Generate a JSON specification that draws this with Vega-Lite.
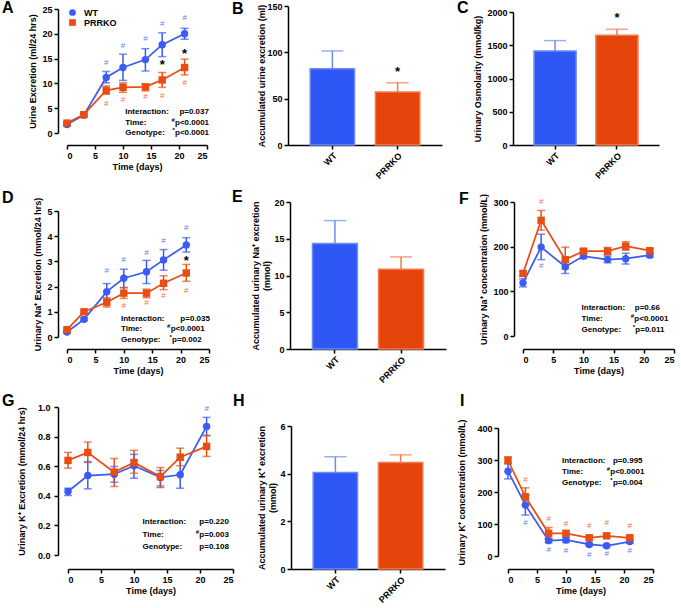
{
  "$schema": "https://vega.github.io/schema/vega-lite/v6.json",
  "autosize": {"type": "none"},
  "padding": {"left": 58, "top": 6, "right": 623, "bottom": 602},
  "columns": 3,
  "spacing": {"row": 57, "column": 52},
  "align": "each",
  "bounds": "flush",
  "resolve": {"scale": {"color": "independent", "shape": "independent", "fill": "independent", "stroke": "independent"}},
  "datasets": {
    "series": [
      {"p":"A","g":"WT","x":0,"y":1.7,"lo":1.4,"hi":2.0},
      {"p":"A","g":"WT","x":3,"y":3.6,"lo":3.3,"hi":3.9},
      {"p":"A","g":"WT","x":7,"y":11.2,"lo":10.1,"hi":12.4},
      {"p":"A","g":"WT","x":10,"y":13.2,"lo":10.6,"hi":15.9},
      {"p":"A","g":"WT","x":14,"y":14.8,"lo":12.5,"hi":17.0},
      {"p":"A","g":"WT","x":17,"y":17.8,"lo":15.4,"hi":20.2},
      {"p":"A","g":"WT","x":21,"y":20.0,"lo":18.9,"hi":21.1},
      {"p":"A","g":"PRRKO","x":0,"y":2.0,"lo":1.8,"hi":2.2},
      {"p":"A","g":"PRRKO","x":3,"y":3.7,"lo":3.4,"hi":4.0},
      {"p":"A","g":"PRRKO","x":7,"y":8.6,"lo":7.8,"hi":9.5},
      {"p":"A","g":"PRRKO","x":10,"y":9.2,"lo":8.2,"hi":10.1},
      {"p":"A","g":"PRRKO","x":14,"y":9.3,"lo":8.5,"hi":9.9},
      {"p":"A","g":"PRRKO","x":17,"y":10.7,"lo":9.2,"hi":12.2},
      {"p":"A","g":"PRRKO","x":21,"y":13.2,"lo":11.7,"hi":14.9},
      {"p":"D","g":"WT","x":0,"y":0.2,"lo":0.15,"hi":0.25},
      {"p":"D","g":"WT","x":3,"y":0.7,"lo":0.65,"hi":0.75},
      {"p":"D","g":"WT","x":7,"y":1.8,"lo":1.5,"hi":2.12},
      {"p":"D","g":"WT","x":10,"y":2.33,"lo":1.96,"hi":2.69},
      {"p":"D","g":"WT","x":14,"y":2.59,"lo":2.12,"hi":3.04},
      {"p":"D","g":"WT","x":17,"y":3.06,"lo":2.65,"hi":3.47},
      {"p":"D","g":"WT","x":21,"y":3.65,"lo":3.37,"hi":3.94},
      {"p":"D","g":"PRRKO","x":0,"y":0.29,"lo":0.25,"hi":0.33},
      {"p":"D","g":"PRRKO","x":3,"y":1.0,"lo":0.95,"hi":1.05},
      {"p":"D","g":"PRRKO","x":7,"y":1.38,"lo":1.19,"hi":1.56},
      {"p":"D","g":"PRRKO","x":10,"y":1.74,"lo":1.53,"hi":1.96},
      {"p":"D","g":"PRRKO","x":14,"y":1.74,"lo":1.56,"hi":1.9},
      {"p":"D","g":"PRRKO","x":17,"y":2.13,"lo":1.88,"hi":2.43},
      {"p":"D","g":"PRRKO","x":21,"y":2.54,"lo":2.21,"hi":2.88},
      {"p":"F","g":"WT","x":0,"y":119,"lo":110,"hi":128},
      {"p":"F","g":"WT","x":3,"y":199,"lo":171,"hi":228},
      {"p":"F","g":"WT","x":7,"y":155,"lo":140,"hi":168},
      {"p":"F","g":"WT","x":10,"y":179,"lo":173,"hi":185},
      {"p":"F","g":"WT","x":14,"y":171,"lo":164,"hi":179},
      {"p":"F","g":"WT","x":17,"y":173,"lo":161,"hi":185},
      {"p":"F","g":"WT","x":21,"y":181,"lo":176,"hi":186},
      {"p":"F","g":"PRRKO","x":0,"y":140,"lo":134,"hi":146},
      {"p":"F","g":"PRRKO","x":3,"y":259,"lo":237,"hi":281},
      {"p":"F","g":"PRRKO","x":7,"y":171,"lo":150,"hi":199},
      {"p":"F","g":"PRRKO","x":10,"y":190,"lo":185,"hi":195},
      {"p":"F","g":"PRRKO","x":14,"y":190,"lo":182,"hi":198},
      {"p":"F","g":"PRRKO","x":17,"y":201,"lo":192,"hi":211},
      {"p":"F","g":"PRRKO","x":21,"y":191,"lo":186,"hi":195},
      {"p":"G","g":"WT","x":0,"y":0.429,"lo":0.402,"hi":0.451},
      {"p":"G","g":"WT","x":3,"y":0.537,"lo":0.447,"hi":0.631},
      {"p":"G","g":"WT","x":7,"y":0.546,"lo":0.492,"hi":0.598},
      {"p":"G","g":"WT","x":10,"y":0.603,"lo":0.519,"hi":0.68},
      {"p":"G","g":"WT","x":14,"y":0.524,"lo":0.456,"hi":0.571},
      {"p":"G","g":"WT","x":17,"y":0.542,"lo":0.451,"hi":0.643},
      {"p":"G","g":"WT","x":21,"y":0.869,"lo":0.808,"hi":0.93},
      {"p":"G","g":"PRRKO","x":0,"y":0.639,"lo":0.587,"hi":0.693},
      {"p":"G","g":"PRRKO","x":3,"y":0.693,"lo":0.625,"hi":0.763},
      {"p":"G","g":"PRRKO","x":7,"y":0.56,"lo":0.463,"hi":0.652},
      {"p":"G","g":"PRRKO","x":10,"y":0.625,"lo":0.553,"hi":0.707},
      {"p":"G","g":"PRRKO","x":14,"y":0.53,"lo":0.467,"hi":0.591},
      {"p":"G","g":"PRRKO","x":17,"y":0.661,"lo":0.603,"hi":0.722},
      {"p":"G","g":"PRRKO","x":21,"y":0.734,"lo":0.666,"hi":0.806},
      {"p":"I","g":"WT","x":0,"y":265,"lo":241,"hi":288},
      {"p":"I","g":"WT","x":3,"y":159,"lo":128,"hi":190},
      {"p":"I","g":"WT","x":7,"y":48,"lo":42,"hi":54},
      {"p":"I","g":"WT","x":10,"y":50,"lo":42,"hi":58},
      {"p":"I","g":"WT","x":14,"y":36,"lo":32,"hi":40},
      {"p":"I","g":"WT","x":17,"y":32,"lo":28,"hi":36},
      {"p":"I","g":"WT","x":21,"y":45,"lo":40,"hi":50},
      {"p":"I","g":"PRRKO","x":0,"y":299,"lo":289,"hi":310},
      {"p":"I","g":"PRRKO","x":3,"y":185,"lo":159,"hi":213},
      {"p":"I","g":"PRRKO","x":7,"y":71,"lo":55,"hi":89},
      {"p":"I","g":"PRRKO","x":10,"y":71,"lo":64,"hi":78},
      {"p":"I","g":"PRRKO","x":14,"y":57,"lo":52,"hi":62},
      {"p":"I","g":"PRRKO","x":17,"y":63,"lo":57,"hi":71},
      {"p":"I","g":"PRRKO","x":21,"y":57,"lo":52,"hi":62}
    ],
    "bars": [
      {"p":"B","g":"WT","y":82.4,"err":101.5},
      {"p":"B","g":"PRRKO","y":57.1,"err":67.2},
      {"p":"C","g":"WT","y":1415,"err":1570},
      {"p":"C","g":"PRRKO","y":1650,"err":1740},
      {"p":"E","g":"WT","y":14.34,"err":17.47},
      {"p":"E","g":"PRRKO","y":10.86,"err":12.53},
      {"p":"H","g":"WT","y":4.05,"err":4.71},
      {"p":"H","g":"PRRKO","y":4.47,"err":4.79}
    ],
    "marks": [
      {"p":"A","g":"WT","x":7,"y":14.05,"t":"#"},
      {"p":"A","g":"WT","x":10,"y":17.6,"t":"#"},
      {"p":"A","g":"WT","x":14,"y":18.9,"t":"#"},
      {"p":"A","g":"WT","x":17,"y":22.0,"t":"#"},
      {"p":"A","g":"WT","x":21,"y":23.2,"t":"#"},
      {"p":"A","g":"PRRKO","x":7,"y":5.9,"t":"#"},
      {"p":"A","g":"PRRKO","x":10,"y":6.6,"t":"#"},
      {"p":"A","g":"PRRKO","x":14,"y":7.3,"t":"#"},
      {"p":"A","g":"PRRKO","x":17,"y":7.4,"t":"#"},
      {"p":"A","g":"PRRKO","x":21,"y":10.1,"t":"#"},
      {"p":"A","g":"star","x":17,"y":14.05,"t":"*"},
      {"p":"A","g":"star","x":21,"y":16.3,"t":"*"},
      {"p":"B","g":"PRRKO","y":80.6,"t":"*"},
      {"p":"C","g":"PRRKO","y":1940,"t":"*"},
      {"p":"D","g":"WT","x":7,"y":2.61,"t":"#"},
      {"p":"D","g":"WT","x":10,"y":3.07,"t":"#"},
      {"p":"D","g":"WT","x":14,"y":3.35,"t":"#"},
      {"p":"D","g":"WT","x":17,"y":3.82,"t":"#"},
      {"p":"D","g":"WT","x":21,"y":4.33,"t":"#"},
      {"p":"D","g":"PRRKO","x":10,"y":1.22,"t":"#"},
      {"p":"D","g":"PRRKO","x":14,"y":1.36,"t":"#"},
      {"p":"D","g":"PRRKO","x":17,"y":1.63,"t":"#"},
      {"p":"D","g":"PRRKO","x":21,"y":1.81,"t":"#"},
      {"p":"D","g":"star","x":21,"y":3.08,"t":"*"},
      {"p":"F","g":"PRRKO","x":3,"y":301,"t":"#"},
      {"p":"F","g":"WT","x":3,"y":156,"t":"#"},
      {"p":"G","g":"WT","x":21,"y":0.987,"t":"#"},
      {"p":"I","g":"PRRKO","x":3,"y":236,"t":"#"},
      {"p":"I","g":"PRRKO","x":7,"y":115,"t":"#"},
      {"p":"I","g":"PRRKO","x":10,"y":100,"t":"#"},
      {"p":"I","g":"PRRKO","x":14,"y":94,"t":"#"},
      {"p":"I","g":"PRRKO","x":17,"y":104,"t":"#"},
      {"p":"I","g":"PRRKO","x":21,"y":95,"t":"#"},
      {"p":"I","g":"WT","x":3,"y":104,"t":"#"},
      {"p":"I","g":"WT","x":7,"y":19,"t":"#"},
      {"p":"I","g":"WT","x":10,"y":17,"t":"#"},
      {"p":"I","g":"WT","x":14,"y":3,"t":"#"},
      {"p":"I","g":"WT","x":17,"y":5,"t":"#"},
      {"p":"I","g":"WT","x":21,"y":17,"t":"#"}
    ],
    "stats": [
      {"p":"A","x":10.4,"vx":20.07,"y":4.17,"label":"Interaction:","value":"p=0.037","sup":""},
      {"p":"A","x":10.4,"vx":19.29,"y":2.08,"label":"Time:","value":"p<0.0001","sup":"#"},
      {"p":"A","x":10.4,"vx":19.29,"y":-0.07,"label":"Genotype:","value":"p<0.0001","sup":"*"},
      {"p":"D","x":9.5,"vx":19.96,"y":0.71,"label":"Interaction:","value":"p=0.035","sup":""},
      {"p":"D","x":9.5,"vx":18.26,"y":0.31,"label":"Time:","value":"p<0.0001","sup":"#"},
      {"p":"D","x":9.5,"vx":18.5,"y":-0.12,"label":"Genotype:","value":"p=0.002","sup":"*"},
      {"p":"F","x":9.7,"vx":18.5,"y":62,"label":"Interaction:","value":"p=0.66","sup":""},
      {"p":"F","x":9.7,"vx":18.43,"y":38,"label":"Time:","value":"p<0.0001","sup":"#"},
      {"p":"F","x":9.7,"vx":18.6,"y":13.4,"label":"Genotype:","value":"p=0.011","sup":"*"},
      {"p":"G","x":11.3,"vx":19.9,"y":0.221,"label":"Interaction:","value":"p=0.220","sup":""},
      {"p":"G","x":11.3,"vx":19.9,"y":0.135,"label":"Time:","value":"p=0.003","sup":"#"},
      {"p":"G","x":11.3,"vx":19.9,"y":0.056,"label":"Genotype:","value":"p=0.108","sup":""},
      {"p":"I","x":9.3,"vx":18.1,"y":297,"label":"Interaction:","value":"p=0.995","sup":""},
      {"p":"I","x":9.3,"vx":17.64,"y":263,"label":"Time:","value":"p<0.0001","sup":"#"},
      {"p":"I","x":9.3,"vx":18.1,"y":229,"label":"Genotype:","value":"p=0.004","sup":"*"}
    ]
  },
  "concat": [
    {
      "width": 178, "height": 139,
      "title": {"text": "A", "dx": -56, "dy": 15},
      "encoding": {
        "x": {"field": "x", "type": "quantitative", "scale": {"domain": [0, 25], "range": [9, 149], "nice": false, "zero": false, "padding": 0}, "axis": {"values": [0, 5, 10, 15, 20, 25], "title": "Time (days)", "titlePadding": 2}},
        "y": {"field": "y", "type": "quantitative", "scale": {"domain": [0, 25], "range": [127, 3], "nice": false, "zero": false, "padding": 0}, "axis": {"values": [0, 5, 10, 15, 20, 25], "title": "Urine Excretion (ml/24 hrs)"}}
      },
      "layer": [
        {"data": {"name": "series"}, "transform": [{"filter": {"field": "p", "equal": "A"}}], "mark": {"type": "rule", "strokeWidth": 1.5}, "encoding": {"y": {"field": "lo", "type": "quantitative"}, "y2": {"field": "hi"}, "stroke": {"field": "g", "type": "nominal", "scale": {"domain": ["PRRKO", "WT"], "range": ["#E84E14", "#3B5BF2"]}, "legend": null}}},
        {"data": {"name": "series"}, "transform": [{"filter": {"field": "p", "equal": "A"}}], "mark": {"type": "tick", "orient": "horizontal", "size": 8, "thickness": 1.5}, "encoding": {"y": {"field": "lo", "type": "quantitative"}, "fill": {"field": "g", "type": "nominal", "scale": {"domain": ["PRRKO", "WT"], "range": ["#E84E14", "#3B5BF2"]}, "legend": null}}},
        {"data": {"name": "series"}, "transform": [{"filter": {"field": "p", "equal": "A"}}], "mark": {"type": "tick", "orient": "horizontal", "size": 8, "thickness": 1.5}, "encoding": {"y": {"field": "hi", "type": "quantitative"}, "fill": {"field": "g", "type": "nominal", "legend": null}}},
        {"data": {"name": "series"}, "transform": [{"filter": {"field": "p", "equal": "A"}}], "mark": {"type": "line", "strokeWidth": 1.75}, "encoding": {"stroke": {"field": "g", "type": "nominal", "legend": null}}},
        {"data": {"name": "series"}, "transform": [{"filter": {"field": "p", "equal": "A"}}], "mark": {"type": "point", "filled": true, "size": 55, "opacity": 1},
          "encoding": {
            "color": {"field": "g", "type": "nominal", "scale": {"domain": ["WT", "PRRKO"], "range": ["#3B5BF2", "#E84E14"]}, "legend": {"orient": "none", "legendX": 10, "legendY": 2, "title": null, "labelFontSize": 9, "labelFontWeight": "bold", "labelFont": "Liberation Sans", "labelColor": "black", "symbolSize": 45, "padding": 0, "rowPadding": 0, "labelOffset": 7}},
            "shape": {"field": "g", "type": "nominal", "scale": {"domain": ["WT", "PRRKO"], "range": ["circle", "square"]}, "legend": {"orient": "none", "legendX": 10, "legendY": 2, "title": null, "labelFontSize": 9, "labelFontWeight": "bold", "labelFont": "Liberation Sans", "labelColor": "black", "symbolSize": 45, "padding": 0, "rowPadding": 0, "labelOffset": 7}}
          }},
        {"data": {"name": "marks"}, "transform": [{"filter": {"field": "p", "equal": "A"}}, {"filter": {"field": "t", "equal": "#"}}], "mark": {"type": "text", "fontSize": 8, "opacity": 0.8}, "encoding": {"text": {"field": "t"}, "fill": {"field": "g", "type": "nominal", "legend": null}}},
        {"data": {"name": "marks"}, "transform": [{"filter": {"field": "p", "equal": "A"}}, {"filter": {"field": "t", "equal": "*"}}], "mark": {"type": "text", "fontSize": 13, "fontWeight": "bold", "dy": 2, "color": "black"}, "encoding": {"text": {"field": "t"}}},
        {"data": {"name": "stats"}, "transform": [{"filter": {"field": "p", "equal": "A"}}], "mark": {"type": "text", "align": "left", "fontSize": 8, "fontWeight": "bold", "color": "black"}, "encoding": {"text": {"field": "label"}}},
        {"data": {"name": "stats"}, "transform": [{"filter": {"field": "p", "equal": "A"}}], "mark": {"type": "text", "align": "left", "fontSize": 8, "fontWeight": "bold", "color": "black"}, "encoding": {"x": {"field": "vx", "type": "quantitative"}, "text": {"field": "value"}}},
        {"data": {"name": "stats"}, "transform": [{"filter": {"field": "p", "equal": "A"}}, {"filter": "datum.sup !== ''"}], "mark": {"type": "text", "align": "right", "fontSize": 6, "fontWeight": "bold", "dy": -3, "dx": -0.3, "color": "black"}, "encoding": {"x": {"field": "vx", "type": "quantitative"}, "text": {"field": "sup"}}}
      ]
    },
    {
      "width": 158, "height": 139,
      "title": {"text": "B", "dx": -56, "dy": 19},
      "encoding": {
        "x": {"field": "g", "type": "nominal", "sort": ["WT", "PRRKO"], "scale": {"domain": ["WT", "PRRKO"], "range": [0, 154], "paddingInner": 0.32, "paddingOuter": 0.34}, "axis": {"title": null, "labelAngle": -45}},
        "y": {"field": "y", "type": "quantitative", "scale": {"domain": [0, 150], "range": [139, 0], "nice": false, "zero": false, "padding": 0}, "axis": {"values": [0, 50, 100, 150], "title": "Accumulated urine excretion (ml)", "titlePadding": 0}}
      },
      "layer": [
        {"data": {"name": "bars"}, "transform": [{"filter": {"field": "p", "equal": "B"}}], "mark": {"type": "rule", "strokeWidth": 1.5}, "encoding": {"y2": {"field": "err"}, "stroke": {"field": "g", "type": "nominal", "scale": {"domain": ["WT", "PRRKO"], "range": ["#6D8BF3", "#EF7B4F"]}, "legend": null}}},
        {"data": {"name": "bars"}, "transform": [{"filter": {"field": "p", "equal": "B"}}], "mark": {"type": "tick", "orient": "horizontal", "size": 22, "thickness": 1.5}, "encoding": {"y": {"field": "err", "type": "quantitative"}, "color": {"field": "g", "type": "nominal", "scale": {"domain": ["WT", "PRRKO"], "range": ["#6D8BF3", "#EF7B4F"]}, "legend": null}}},
        {"data": {"name": "bars"}, "transform": [{"filter": {"field": "p", "equal": "B"}}], "mark": {"type": "bar", "strokeWidth": 1.5}, "encoding": {"fill": {"field": "g", "type": "nominal", "scale": {"domain": ["WT", "PRRKO"], "range": ["#2F57F5", "#E5450A"]}, "legend": null}, "stroke": {"field": "g", "type": "nominal", "legend": null}}},
        {"data": {"name": "marks"}, "transform": [{"filter": {"field": "p", "equal": "B"}}], "mark": {"type": "text", "fontSize": 13, "fontWeight": "bold", "dy": 2, "color": "black"}, "encoding": {"text": {"field": "t"}}}
      ]
    },
    {
      "width": 176, "height": 139,
      "title": {"text": "C", "dx": -41, "dy": 14},
      "encoding": {
        "x": {"field": "g", "type": "nominal", "sort": ["WT", "PRRKO"], "scale": {"domain": ["WT", "PRRKO"], "range": [15, 161], "paddingInner": 0.32, "paddingOuter": 0.34}, "axis": {"title": null, "labelAngle": -45}},
        "y": {"field": "y", "type": "quantitative", "scale": {"domain": [0, 2000], "range": [139, 6], "nice": false, "zero": false, "padding": 0}, "axis": {"values": [0, 500, 1000, 1500, 2000], "format": "d", "title": "Urinary Osmolarity (mmol/kg)", "offset": -15, "titlePadding": 4}}
      },
      "layer": [
        {"data": {"name": "bars"}, "transform": [{"filter": {"field": "p", "equal": "C"}}], "mark": {"type": "rule", "strokeWidth": 1.5}, "encoding": {"y2": {"field": "err"}, "stroke": {"field": "g", "type": "nominal", "scale": {"domain": ["WT", "PRRKO"], "range": ["#6D8BF3", "#EF7B4F"]}, "legend": null}}},
        {"data": {"name": "bars"}, "transform": [{"filter": {"field": "p", "equal": "C"}}], "mark": {"type": "tick", "orient": "horizontal", "size": 22, "thickness": 1.5}, "encoding": {"y": {"field": "err", "type": "quantitative"}, "color": {"field": "g", "type": "nominal", "scale": {"domain": ["WT", "PRRKO"], "range": ["#6D8BF3", "#EF7B4F"]}, "legend": null}}},
        {"data": {"name": "bars"}, "transform": [{"filter": {"field": "p", "equal": "C"}}], "mark": {"type": "bar", "strokeWidth": 1.5}, "encoding": {"fill": {"field": "g", "type": "nominal", "scale": {"domain": ["WT", "PRRKO"], "range": ["#2F57F5", "#E5450A"]}, "legend": null}, "stroke": {"field": "g", "type": "nominal", "legend": null}}},
        {"data": {"name": "marks"}, "transform": [{"filter": {"field": "p", "equal": "C"}}], "mark": {"type": "text", "fontSize": 13, "fontWeight": "bold", "dy": 2, "color": "black"}, "encoding": {"text": {"field": "t"}}}
      ]
    },
    {
      "width": 178, "height": 147,
      "title": {"text": "D", "dx": -56, "dy": 13},
      "encoding": {
        "x": {"field": "x", "type": "quantitative", "scale": {"domain": [0, 25], "range": [9, 151], "nice": false, "zero": false, "padding": 0}, "axis": {"values": [0, 5, 10, 15, 20, 25], "title": "Time (days)", "titlePadding": 2}},
        "y": {"field": "y", "type": "quantitative", "scale": {"domain": [0, 5], "range": [135, 9], "nice": false, "zero": false, "padding": 0}, "axis": {"values": [0, 1, 2, 3, 4, 5], "title": "Urinary Na⁺ Excretion (mmol/24 hrs)"}}
      },
      "layer": [
        {"data": {"name": "series"}, "transform": [{"filter": {"field": "p", "equal": "D"}}], "mark": {"type": "rule", "strokeWidth": 1.5}, "encoding": {"y": {"field": "lo", "type": "quantitative"}, "y2": {"field": "hi"}, "stroke": {"field": "g", "type": "nominal", "scale": {"domain": ["WT", "PRRKO"], "range": ["#3B5BF2", "#E84E14"]}, "legend": null}}},
        {"data": {"name": "series"}, "transform": [{"filter": {"field": "p", "equal": "D"}}], "mark": {"type": "tick", "orient": "horizontal", "size": 8, "thickness": 1.5}, "encoding": {"y": {"field": "lo", "type": "quantitative"}, "fill": {"field": "g", "type": "nominal", "scale": {"domain": ["WT", "PRRKO"], "range": ["#3B5BF2", "#E84E14"]}, "legend": null}}},
        {"data": {"name": "series"}, "transform": [{"filter": {"field": "p", "equal": "D"}}], "mark": {"type": "tick", "orient": "horizontal", "size": 8, "thickness": 1.5}, "encoding": {"y": {"field": "hi", "type": "quantitative"}, "fill": {"field": "g", "type": "nominal", "legend": null}}},
        {"data": {"name": "series"}, "transform": [{"filter": {"field": "p", "equal": "D"}}], "mark": {"type": "line", "strokeWidth": 1.75}, "encoding": {"stroke": {"field": "g", "type": "nominal", "legend": null}}},
        {"data": {"name": "series"}, "transform": [{"filter": {"field": "p", "equal": "D"}}], "mark": {"type": "point", "filled": true, "size": 55, "opacity": 1}, "encoding": {"color": {"field": "g", "type": "nominal", "scale": {"domain": ["WT", "PRRKO"], "range": ["#3B5BF2", "#E84E14"]}, "legend": null}, "shape": {"field": "g", "type": "nominal", "scale": {"domain": ["WT", "PRRKO"], "range": ["circle", "square"]}, "legend": null}}},
        {"data": {"name": "marks"}, "transform": [{"filter": {"field": "p", "equal": "D"}}, {"filter": {"field": "t", "equal": "#"}}], "mark": {"type": "text", "fontSize": 8, "opacity": 0.8}, "encoding": {"text": {"field": "t"}, "fill": {"field": "g", "type": "nominal", "legend": null}}},
        {"data": {"name": "marks"}, "transform": [{"filter": {"field": "p", "equal": "D"}}, {"filter": {"field": "t", "equal": "*"}}], "mark": {"type": "text", "fontSize": 13, "fontWeight": "bold", "dy": 2, "color": "black"}, "encoding": {"text": {"field": "t"}}},
        {"data": {"name": "stats"}, "transform": [{"filter": {"field": "p", "equal": "D"}}], "mark": {"type": "text", "align": "left", "fontSize": 8, "fontWeight": "bold", "color": "black"}, "encoding": {"text": {"field": "label"}}},
        {"data": {"name": "stats"}, "transform": [{"filter": {"field": "p", "equal": "D"}}], "mark": {"type": "text", "align": "left", "fontSize": 8, "fontWeight": "bold", "color": "black"}, "encoding": {"x": {"field": "vx", "type": "quantitative"}, "text": {"field": "value"}}},
        {"data": {"name": "stats"}, "transform": [{"filter": {"field": "p", "equal": "D"}}, {"filter": "datum.sup !== ''"}], "mark": {"type": "text", "align": "right", "fontSize": 6, "fontWeight": "bold", "dy": -3, "dx": -0.3, "color": "black"}, "encoding": {"x": {"field": "vx", "type": "quantitative"}, "text": {"field": "sup"}}}
      ]
    },
    {
      "width": 158, "height": 147,
      "title": {"text": "E", "dx": -56, "dy": 11},
      "encoding": {
        "x": {"field": "g", "type": "nominal", "sort": ["WT", "PRRKO"], "scale": {"domain": ["WT", "PRRKO"], "range": [2, 158], "paddingInner": 0.32, "paddingOuter": 0.34}, "axis": {"title": null, "labelAngle": -45}},
        "y": {"field": "y", "type": "quantitative", "scale": {"domain": [0, 20], "range": [147, 0], "nice": false, "zero": false, "padding": 0}, "axis": {"values": [0, 5, 10, 15, 20], "title": ["Accumulated urinary Na⁺ excretion", "(mmol)"], "offset": -2, "titlePadding": 2}}
      },
      "layer": [
        {"data": {"name": "bars"}, "transform": [{"filter": {"field": "p", "equal": "E"}}], "mark": {"type": "rule", "strokeWidth": 1.5}, "encoding": {"y2": {"field": "err"}, "stroke": {"field": "g", "type": "nominal", "scale": {"domain": ["WT", "PRRKO"], "range": ["#6D8BF3", "#EF7B4F"]}, "legend": null}}},
        {"data": {"name": "bars"}, "transform": [{"filter": {"field": "p", "equal": "E"}}], "mark": {"type": "tick", "orient": "horizontal", "size": 22, "thickness": 1.5}, "encoding": {"y": {"field": "err", "type": "quantitative"}, "color": {"field": "g", "type": "nominal", "scale": {"domain": ["WT", "PRRKO"], "range": ["#6D8BF3", "#EF7B4F"]}, "legend": null}}},
        {"data": {"name": "bars"}, "transform": [{"filter": {"field": "p", "equal": "E"}}], "mark": {"type": "bar", "strokeWidth": 1.5}, "encoding": {"fill": {"field": "g", "type": "nominal", "scale": {"domain": ["WT", "PRRKO"], "range": ["#2F57F5", "#E5450A"]}, "legend": null}, "stroke": {"field": "g", "type": "nominal", "legend": null}}}
      ]
    },
    {
      "width": 176, "height": 147,
      "title": {"text": "F", "dx": -39, "dy": 18},
      "encoding": {
        "x": {"field": "x", "type": "quantitative", "scale": {"domain": [0, 25], "range": [25, 176], "nice": false, "zero": false, "padding": 0}, "axis": {"values": [0, 5, 10, 15, 20, 25], "title": "Time (days)", "titlePadding": 2}},
        "y": {"field": "y", "type": "quantitative", "scale": {"domain": [0, 300], "range": [134, 0], "nice": false, "zero": false, "padding": 0}, "axis": {"values": [0, 100, 200, 300], "title": "Urinary Na⁺ concentration (mmol/L)", "offset": -16}}
      },
      "layer": [
        {"data": {"name": "series"}, "transform": [{"filter": {"field": "p", "equal": "F"}}], "mark": {"type": "rule", "strokeWidth": 1.5}, "encoding": {"y": {"field": "lo", "type": "quantitative"}, "y2": {"field": "hi"}, "stroke": {"field": "g", "type": "nominal", "scale": {"domain": ["WT", "PRRKO"], "range": ["#3B5BF2", "#E84E14"]}, "legend": null}}},
        {"data": {"name": "series"}, "transform": [{"filter": {"field": "p", "equal": "F"}}], "mark": {"type": "tick", "orient": "horizontal", "size": 8, "thickness": 1.5}, "encoding": {"y": {"field": "lo", "type": "quantitative"}, "fill": {"field": "g", "type": "nominal", "scale": {"domain": ["WT", "PRRKO"], "range": ["#3B5BF2", "#E84E14"]}, "legend": null}}},
        {"data": {"name": "series"}, "transform": [{"filter": {"field": "p", "equal": "F"}}], "mark": {"type": "tick", "orient": "horizontal", "size": 8, "thickness": 1.5}, "encoding": {"y": {"field": "hi", "type": "quantitative"}, "fill": {"field": "g", "type": "nominal", "legend": null}}},
        {"data": {"name": "series"}, "transform": [{"filter": {"field": "p", "equal": "F"}}], "mark": {"type": "line", "strokeWidth": 1.75}, "encoding": {"stroke": {"field": "g", "type": "nominal", "legend": null}}},
        {"data": {"name": "series"}, "transform": [{"filter": {"field": "p", "equal": "F"}}], "mark": {"type": "point", "filled": true, "size": 55, "opacity": 1}, "encoding": {"color": {"field": "g", "type": "nominal", "scale": {"domain": ["WT", "PRRKO"], "range": ["#3B5BF2", "#E84E14"]}, "legend": null}, "shape": {"field": "g", "type": "nominal", "scale": {"domain": ["WT", "PRRKO"], "range": ["circle", "square"]}, "legend": null}}},
        {"data": {"name": "marks"}, "transform": [{"filter": {"field": "p", "equal": "F"}}, {"filter": {"field": "t", "equal": "#"}}], "mark": {"type": "text", "fontSize": 8, "opacity": 0.8}, "encoding": {"text": {"field": "t"}, "fill": {"field": "g", "type": "nominal", "legend": null}}},
        {"data": {"name": "stats"}, "transform": [{"filter": {"field": "p", "equal": "F"}}], "mark": {"type": "text", "align": "left", "fontSize": 8, "fontWeight": "bold", "color": "black"}, "encoding": {"text": {"field": "label"}}},
        {"data": {"name": "stats"}, "transform": [{"filter": {"field": "p", "equal": "F"}}], "mark": {"type": "text", "align": "left", "fontSize": 8, "fontWeight": "bold", "color": "black"}, "encoding": {"x": {"field": "vx", "type": "quantitative"}, "text": {"field": "value"}}},
        {"data": {"name": "stats"}, "transform": [{"filter": {"field": "p", "equal": "F"}}, {"filter": "datum.sup !== ''"}], "mark": {"type": "text", "align": "right", "fontSize": 6, "fontWeight": "bold", "dy": -3, "dx": -0.3, "color": "black"}, "encoding": {"x": {"field": "vx", "type": "quantitative"}, "text": {"field": "sup"}}}
      ]
    },
    {
      "width": 178, "height": 163,
      "title": {"text": "G", "dx": -56, "dy": 10},
      "encoding": {
        "x": {"field": "x", "type": "quantitative", "scale": {"domain": [0, 25], "range": [10, 175], "nice": false, "zero": false, "padding": 0}, "axis": {"values": [0, 5, 10, 15, 20, 25], "title": "Time (days)", "titlePadding": 2}},
        "y": {"field": "y", "type": "quantitative", "scale": {"domain": [0, 1], "range": [149, 1], "nice": false, "zero": false, "padding": 0}, "axis": {"values": [0, 0.2, 0.4, 0.6, 0.8, 1.0], "format": ".1f", "title": "Urinary K⁺ Excretion (mmol/24 hrs)", "labelPadding": 4, "titlePadding": 11}}
      },
      "layer": [
        {"data": {"name": "series"}, "transform": [{"filter": {"field": "p", "equal": "G"}}], "mark": {"type": "rule", "strokeWidth": 1.5}, "encoding": {"y": {"field": "lo", "type": "quantitative"}, "y2": {"field": "hi"}, "stroke": {"field": "g", "type": "nominal", "scale": {"domain": ["WT", "PRRKO"], "range": ["#3B5BF2", "#E84E14"]}, "legend": null}}},
        {"data": {"name": "series"}, "transform": [{"filter": {"field": "p", "equal": "G"}}], "mark": {"type": "tick", "orient": "horizontal", "size": 8, "thickness": 1.5}, "encoding": {"y": {"field": "lo", "type": "quantitative"}, "fill": {"field": "g", "type": "nominal", "scale": {"domain": ["WT", "PRRKO"], "range": ["#3B5BF2", "#E84E14"]}, "legend": null}}},
        {"data": {"name": "series"}, "transform": [{"filter": {"field": "p", "equal": "G"}}], "mark": {"type": "tick", "orient": "horizontal", "size": 8, "thickness": 1.5}, "encoding": {"y": {"field": "hi", "type": "quantitative"}, "fill": {"field": "g", "type": "nominal", "legend": null}}},
        {"data": {"name": "series"}, "transform": [{"filter": {"field": "p", "equal": "G"}}], "mark": {"type": "line", "strokeWidth": 1.75}, "encoding": {"stroke": {"field": "g", "type": "nominal", "legend": null}}},
        {"data": {"name": "series"}, "transform": [{"filter": {"field": "p", "equal": "G"}}], "mark": {"type": "point", "filled": true, "size": 55, "opacity": 1}, "encoding": {"color": {"field": "g", "type": "nominal", "scale": {"domain": ["WT", "PRRKO"], "range": ["#3B5BF2", "#E84E14"]}, "legend": null}, "shape": {"field": "g", "type": "nominal", "scale": {"domain": ["WT", "PRRKO"], "range": ["circle", "square"]}, "legend": null}}},
        {"data": {"name": "marks"}, "transform": [{"filter": {"field": "p", "equal": "G"}}, {"filter": {"field": "t", "equal": "#"}}], "mark": {"type": "text", "fontSize": 8, "opacity": 0.8}, "encoding": {"text": {"field": "t"}, "fill": {"field": "g", "type": "nominal", "legend": null}}},
        {"data": {"name": "stats"}, "transform": [{"filter": {"field": "p", "equal": "G"}}], "mark": {"type": "text", "align": "left", "fontSize": 8, "fontWeight": "bold", "color": "black"}, "encoding": {"text": {"field": "label"}}},
        {"data": {"name": "stats"}, "transform": [{"filter": {"field": "p", "equal": "G"}}], "mark": {"type": "text", "align": "left", "fontSize": 8, "fontWeight": "bold", "color": "black"}, "encoding": {"x": {"field": "vx", "type": "quantitative"}, "text": {"field": "value"}}},
        {"data": {"name": "stats"}, "transform": [{"filter": {"field": "p", "equal": "G"}}, {"filter": "datum.sup !== ''"}], "mark": {"type": "text", "align": "right", "fontSize": 6, "fontWeight": "bold", "dy": -3, "dx": -0.3, "color": "black"}, "encoding": {"x": {"field": "vx", "type": "quantitative"}, "text": {"field": "sup"}}}
      ]
    },
    {
      "width": 158, "height": 163,
      "title": {"text": "H", "dx": -55, "dy": 7},
      "encoding": {
        "x": {"field": "g", "type": "nominal", "sort": ["WT", "PRRKO"], "scale": {"domain": ["WT", "PRRKO"], "range": [3, 157], "paddingInner": 0.32, "paddingOuter": 0.34}, "axis": {"title": null, "labelAngle": -45}},
        "y": {"field": "y", "type": "quantitative", "scale": {"domain": [0, 6], "range": [163, 20], "nice": false, "zero": false, "padding": 0}, "axis": {"values": [0, 2, 4, 6], "title": ["Accumulated urinary K⁺ excretion", "(mmol)"], "offset": -3, "titlePadding": 2}}
      },
      "layer": [
        {"data": {"name": "bars"}, "transform": [{"filter": {"field": "p", "equal": "H"}}], "mark": {"type": "rule", "strokeWidth": 1.5}, "encoding": {"y2": {"field": "err"}, "stroke": {"field": "g", "type": "nominal", "scale": {"domain": ["WT", "PRRKO"], "range": ["#6D8BF3", "#EF7B4F"]}, "legend": null}}},
        {"data": {"name": "bars"}, "transform": [{"filter": {"field": "p", "equal": "H"}}], "mark": {"type": "tick", "orient": "horizontal", "size": 22, "thickness": 1.5}, "encoding": {"y": {"field": "err", "type": "quantitative"}, "color": {"field": "g", "type": "nominal", "scale": {"domain": ["WT", "PRRKO"], "range": ["#6D8BF3", "#EF7B4F"]}, "legend": null}}},
        {"data": {"name": "bars"}, "transform": [{"filter": {"field": "p", "equal": "H"}}], "mark": {"type": "bar", "strokeWidth": 1.5}, "encoding": {"fill": {"field": "g", "type": "nominal", "scale": {"domain": ["WT", "PRRKO"], "range": ["#2F57F5", "#E5450A"]}, "legend": null}, "stroke": {"field": "g", "type": "nominal", "legend": null}}}
      ]
    },
    {
      "width": 176, "height": 163,
      "title": {"text": "I", "dx": -38, "dy": 7},
      "encoding": {
        "x": {"field": "x", "type": "quantitative", "scale": {"domain": [0, 25], "range": [10, 155], "nice": false, "zero": false, "padding": 0}, "axis": {"values": [0, 5, 10, 15, 20, 25], "title": "Time (days)", "titlePadding": 2}},
        "y": {"field": "y", "type": "quantitative", "scale": {"domain": [0, 400], "range": [150, 22], "nice": false, "zero": false, "padding": 0}, "axis": {"values": [0, 100, 200, 300, 400], "title": "Urinary K⁺ concentration (mmol/L)", "titlePadding": 10}}
      },
      "layer": [
        {"data": {"name": "series"}, "transform": [{"filter": {"field": "p", "equal": "I"}}], "mark": {"type": "rule", "strokeWidth": 1.5}, "encoding": {"y": {"field": "lo", "type": "quantitative"}, "y2": {"field": "hi"}, "stroke": {"field": "g", "type": "nominal", "scale": {"domain": ["WT", "PRRKO"], "range": ["#3B5BF2", "#E84E14"]}, "legend": null}}},
        {"data": {"name": "series"}, "transform": [{"filter": {"field": "p", "equal": "I"}}], "mark": {"type": "tick", "orient": "horizontal", "size": 8, "thickness": 1.5}, "encoding": {"y": {"field": "lo", "type": "quantitative"}, "fill": {"field": "g", "type": "nominal", "scale": {"domain": ["WT", "PRRKO"], "range": ["#3B5BF2", "#E84E14"]}, "legend": null}}},
        {"data": {"name": "series"}, "transform": [{"filter": {"field": "p", "equal": "I"}}], "mark": {"type": "tick", "orient": "horizontal", "size": 8, "thickness": 1.5}, "encoding": {"y": {"field": "hi", "type": "quantitative"}, "fill": {"field": "g", "type": "nominal", "legend": null}}},
        {"data": {"name": "series"}, "transform": [{"filter": {"field": "p", "equal": "I"}}], "mark": {"type": "line", "strokeWidth": 1.75}, "encoding": {"stroke": {"field": "g", "type": "nominal", "legend": null}}},
        {"data": {"name": "series"}, "transform": [{"filter": {"field": "p", "equal": "I"}}], "mark": {"type": "point", "filled": true, "size": 55, "opacity": 1}, "encoding": {"color": {"field": "g", "type": "nominal", "scale": {"domain": ["WT", "PRRKO"], "range": ["#3B5BF2", "#E84E14"]}, "legend": null}, "shape": {"field": "g", "type": "nominal", "scale": {"domain": ["WT", "PRRKO"], "range": ["circle", "square"]}, "legend": null}}},
        {"data": {"name": "marks"}, "transform": [{"filter": {"field": "p", "equal": "I"}}, {"filter": {"field": "t", "equal": "#"}}], "mark": {"type": "text", "fontSize": 8, "opacity": 0.8}, "encoding": {"text": {"field": "t"}, "fill": {"field": "g", "type": "nominal", "legend": null}}},
        {"data": {"name": "stats"}, "transform": [{"filter": {"field": "p", "equal": "I"}}], "mark": {"type": "text", "align": "left", "fontSize": 8, "fontWeight": "bold", "color": "black"}, "encoding": {"text": {"field": "label"}}},
        {"data": {"name": "stats"}, "transform": [{"filter": {"field": "p", "equal": "I"}}], "mark": {"type": "text", "align": "left", "fontSize": 8, "fontWeight": "bold", "color": "black"}, "encoding": {"x": {"field": "vx", "type": "quantitative"}, "text": {"field": "value"}}},
        {"data": {"name": "stats"}, "transform": [{"filter": {"field": "p", "equal": "I"}}, {"filter": "datum.sup !== ''"}], "mark": {"type": "text", "align": "right", "fontSize": 6, "fontWeight": "bold", "dy": -3, "dx": -0.3, "color": "black"}, "encoding": {"x": {"field": "vx", "type": "quantitative"}, "text": {"field": "sup"}}}
      ]
    }
  ],
  "config": {
    "font": "Liberation Sans",
    "view": {"stroke": null},
    "text": {"font": "Liberation Sans"},
    "axis": {"domainColor": "black", "domainWidth": 1.5, "tickColor": "black", "tickWidth": 1.5, "tickSize": 4, "labelFont": "Liberation Sans", "labelFontWeight": "bold", "labelFontSize": 9, "labelColor": "black", "titleFont": "Liberation Sans", "titleFontWeight": "bold", "titleFontSize": 9, "titleColor": "black", "grid": false, "labelPadding": 2, "titlePadding": 4},
    "title": {"font": "Liberation Sans", "fontSize": 16, "fontWeight": "bold", "anchor": "start", "frame": "group", "offset": 0, "baseline": "alphabetic", "color": "black"}
  }
}
